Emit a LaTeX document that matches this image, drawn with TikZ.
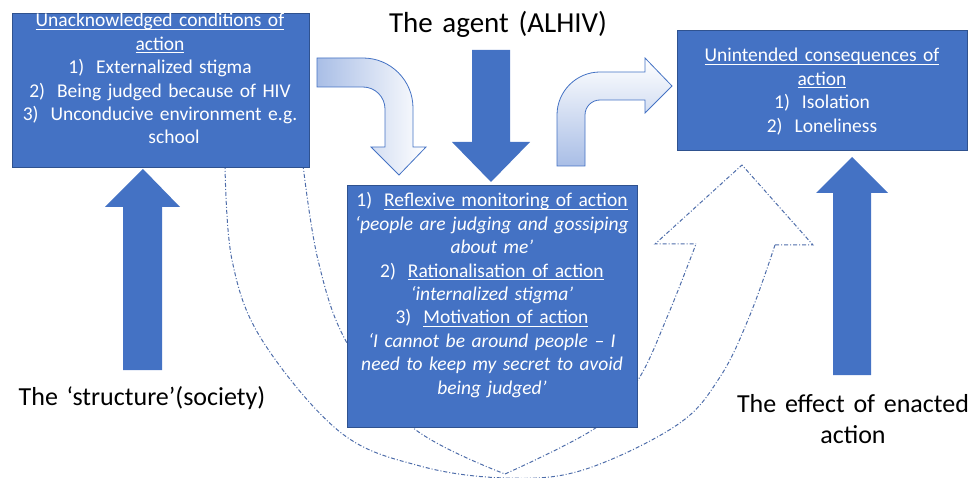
\documentclass[tikz,border=0pt]{standalone}
\usepackage{fontspec}
\setmainfont{Carlito}
\usepackage{tikz}
\definecolor{BoxBlue}{HTML}{4472C4}
\definecolor{BoxEdge}{HTML}{2F528F}
\definecolor{PaleBlue}{HTML}{A9BEE6}
\definecolor{BandLine}{HTML}{4E6DAA}
\newcommand{\undl}[1]{\leavevmode\setbox0=\hbox{#1}\rlap{\rule[-2.6pt]{\wd0}{0.9pt}}\box0}
\tikzset{
  box/.style={draw=BoxEdge, line width=0.8pt, fill=BoxBlue},
  boxtext/.style={text=white, align=center, text width=320pt, inner sep=0pt, font=\fontsize{19.5}{23.4}\selectfont},
  caption/.style={align=center, text width=260pt, inner sep=0pt, font=\fontsize{26}{31}\selectfont},
  band/.style={draw=BandLine, line width=1pt, dash pattern=on 4pt off 2pt on 1pt off 2pt},
  bent/.style={draw=BoxBlue, line width=0.8pt}
}

\begin{document}
\begin{tikzpicture}[x=1pt, y=-1pt]
	\useasboundingbox (0,0) rectangle (977,478);

	% dash-dot curved up arrow behind the boxes
	\draw[band] plot[smooth, tension=0.6] coordinates {(225,165) (232,260) (262,340) (340,432) (420,466) (506,478) (583,470) (677,425) (720,377) (750,315) (775,245)};
	\draw[band] (775,245) -- (813,245) -- (742,165) -- (655,244) -- (696,244);
	\draw[band] plot[smooth, tension=0.6] coordinates {(303,165) (318,260) (347,343) (412,427) (505,474)};
	\draw[band] plot[smooth, tension=0.6] coordinates {(505,474) (597,427) (638,380) (668,315) (696,244)};

	% boxes
	\node[box, minimum width=297, minimum height=154] (cond) at (160.5,90) {};
	\node[box, minimum width=290, minimum height=120] (conseq) at (822,90) {};
	\node[box, minimum width=290, minimum height=242] (reflex) at (492,306) {};

	\node[boxtext, anchor=base] (condtext) at (160,27) {\undl{Unacknowledged conditions of}\\
		\undl{action}\\
		1)\hspace{12pt}Externalized stigma\\
		2)\hspace{12pt}Being judged because of HIV\\
		3)\hspace{12pt}Unconducive environment e.g.\\
		\hspace*{28pt}school};
	\node[boxtext, anchor=base] (conseqtext) at (822,62) {\undl{Unintended consequences of}\\
		\undl{action}\\
		1)\hspace{12pt}Isolation\\
		2)\hspace{12pt}Loneliness};
	\node[boxtext, anchor=base] (reflextext) at (492,207) {1)\hspace{12pt}\undl{Reflexive monitoring of action}\\
		\textit{‘people are judging and gossiping}\\
		\textit{about me’}\\
		2)\hspace{12pt}\undl{Rationalisation of action}\\
		\textit{‘internalized stigma’}\\
		3)\hspace{12pt}\undl{Motivation of action}\\
		\textit{‘I cannot be around people – I}\\
		\textit{need to keep my secret to avoid}\\
		\textit{being judged’}};

	% captions
	\node[caption, anchor=base, font=\fontsize{29}{34}\selectfont] (agent) at (498,33) {The agent (ALHIV)};
	\node[caption, anchor=base] (structure) at (142,405) {The ‘structure’(society)};
	\node[caption, anchor=base] (effect) at (853,412) {The effect of enacted\\action};

	% solid block arrows
	\fill[BoxBlue] (472,50) -- (510,50) -- (510,142) -- (530,142) -- (491,182) -- (452,142) -- (472,142) -- cycle;
	\fill[BoxBlue] (123,370) -- (123,207) -- (105,207) -- (143,169) -- (180,207) -- (162,207) -- (162,370) -- cycle;
	\fill[BoxBlue] (833,375) -- (833,193) -- (816,193) -- (852,157) -- (888,193) -- (871,193) -- (871,375) -- cycle;

	% bent arrows with gradient
	\draw[bent, left color=PaleBlue, right color=white] (317,58) -- (363,58) .. controls (390.6,58) and (413,80.4) .. (413,108) -- (413,147) -- (426,147) -- (399,175) -- (371,147) -- (385,147) -- (385,109) .. controls (385,96.9) and (375.1,87) .. (363,87) -- (317,87) -- cycle;
	\draw[bent, bottom color=PaleBlue, top color=white] (557,166) -- (557,115) .. controls (557,91.3) and (576.3,72) .. (600,72) -- (645,72) -- (645,58) -- (672,86) -- (645,113) -- (645,100) -- (600,100) .. controls (591.7,100) and (585,106.7) .. (585,115) -- (585,166) -- cycle;
\end{tikzpicture}
\end{document}
